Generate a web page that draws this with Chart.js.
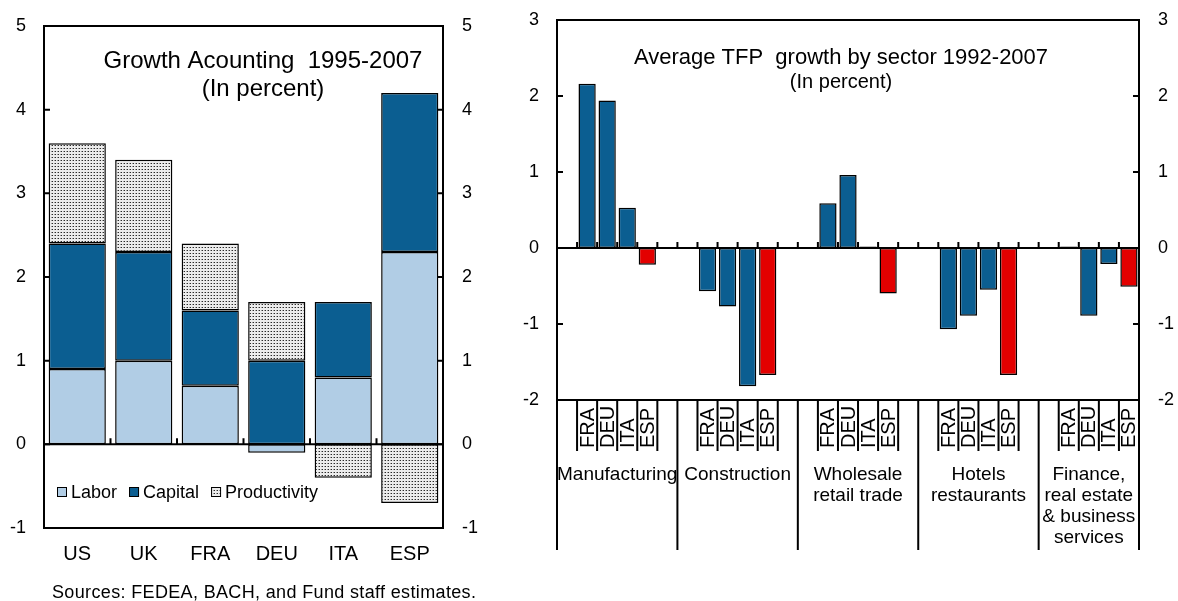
<!DOCTYPE html>
<html><head><meta charset="utf-8">
<script src="https://cdn.jsdelivr.net/npm/chart.js@4.4.1/dist/chart.umd.min.js"></script>
<style>
html,body{margin:0;padding:0;background:#fff;}
#wrap{position:relative;width:1178px;height:601px;overflow:hidden;background:#fff;}
#c1{position:absolute;left:0;top:0;}
#c2{position:absolute;left:490px;top:0;}
#src{position:absolute;left:52px;top:582px;font:18px "Liberation Sans",Arial,sans-serif;letter-spacing:0.35px;color:#000;white-space:nowrap;}
</style></head><body>
<div id="wrap">
<canvas id="c1" width="490" height="601"></canvas>
<canvas id="c2" width="688" height="601"></canvas>
<div id="src">Sources: FEDEA, BACH, and Fund staff estimates.</div>
</div>
<script>
// ---------- Left chart data ----------
const countries = ['US', 'UK', 'FRA', 'DEU', 'ITA', 'ESP'];
const labor = [0.9, 1.0, 0.7, -0.1, 0.8, 2.3];
const capital = [1.5, 1.3, 0.9, 1.0, 0.9, 1.9];
const productivity = [1.2, 1.1, 0.8, 0.7, -0.4, -0.7];
const leftTicks = [-1, 0, 1, 2, 3, 4, 5];
const leftTitle = ['Growth Acounting  1995-2007', '(In percent)'];

// ---------- Right chart data ----------
const tfpCountries = ['FRA', 'DEU', 'ITA', 'ESP'];
const sectorLines = [['Manufacturing'], ['Construction'], ['Wholesale', 'retail trade'], ['Hotels', 'restaurants'], ['Finance,', 'real estate', '& business', 'services']];
const manufacturing = [2.16, 1.94, 0.53, -0.22];
const construction = [-0.57, -0.77, -1.82, -1.67];
const wholesale = [0.59, 0.96, 0.02, -0.60];
const hotels = [-1.07, -0.89, -0.55, -1.67];
const finance = [0.02, -0.89, -0.21, -0.51];
const rightTicks = [-2, -1, 0, 1, 2, 3];
const rightTitle = ['Average TFP  growth by sector 1992-2007', '(In percent)'];

const FONT = '"Liberation Sans", Arial, sans-serif';
const BLUE = '#0B5E91';
const LIGHT = '#B1CDE5';
const RED = '#E30000';

function dotPattern() {
  const c = document.createElement('canvas');
  c.width = 3; c.height = 3;
  const x = c.getContext('2d');
  x.fillStyle = '#ececec'; x.fillRect(0, 0, 3, 3);
  x.fillStyle = '#2a2a2a'; x.fillRect(1, 1, 1, 1);
  x.fillStyle = '#9a9a9a'; x.fillRect(0, 1, 1, 1);
  return x.createPattern(c, 'repeat');
}

const framePlugin = {
  id: 'frame',
  afterDatasetsDraw(chart, args, opts) {
    const { ctx, chartArea: a } = chart;
    const y = chart.scales.y, x = chart.scales.x;
    ctx.save();
    ctx.strokeStyle = '#000';
    ctx.lineWidth = 2;
    ctx.strokeRect(a.left, a.top, a.right - a.left, a.bottom - a.top);
    const y0 = y.getPixelForValue(0);
    ctx.beginPath(); ctx.moveTo(a.left, y0); ctx.lineTo(a.right, y0); ctx.stroke();
    ctx.lineWidth = 2;
    ctx.beginPath();
    y.ticks.forEach(t => {
      const p = y.getPixelForValue(t.value);
      ctx.moveTo(a.left, p); ctx.lineTo(a.left + opts.ytick, p);
      ctx.moveTo(a.right, p); ctx.lineTo(a.right - opts.ytick, p);
    });
    const n = chart.data.labels.length;
    for (let i = 1; i < n; i++) {
      const p = (x.getPixelForValue(i - 1) + x.getPixelForValue(i)) / 2;
      ctx.moveTo(p, y0); ctx.lineTo(p, y0 - opts.xtick);
    }
    ctx.stroke();
    ctx.restore();
  }
};

const titlePlugin = {
  id: 'intitle',
  afterDraw(chart, args, opts) {
    const ctx = chart.ctx;
    ctx.save();
    ctx.fillStyle = '#000';
    ctx.textAlign = 'center';
    ctx.textBaseline = 'middle';
    opts.lines.forEach((t, i) => {
      ctx.font = opts.sizes[i] + 'px ' + FONT;
      ctx.fillText(t, opts.x, opts.ys[i]);
    });
    ctx.restore();
  }
};

const legendPlugin = {
  id: 'inlegend',
  afterDraw(chart, args, opts) {
    const ctx = chart.ctx;
    ctx.save();
    ctx.font = opts.size + 'px ' + FONT;
    ctx.textBaseline = 'middle';
    let x = opts.x;
    chart.data.datasets.forEach(ds => {
      ctx.fillStyle = ds.backgroundColor;
      ctx.fillRect(x, opts.y - 5, 10, 10);
      ctx.strokeStyle = '#000'; ctx.lineWidth = 1;
      ctx.strokeRect(x + 0.5, opts.y - 4.5, 9, 9);
      ctx.fillStyle = '#000';
      ctx.fillText(ds.label, x + 14, opts.y + 1);
      x += 14 + ctx.measureText(ds.label).width + 12;
    });
    ctx.restore();
  }
};

function yAxis(pos, ticksArr, gap, width, min, max) {
  return {
    position: pos, min: min, max: max,
    grid: { display: false, drawTicks: true, tickLength: gap }, border: { display: false },
    ticks: { stepSize: 1, color: '#000', font: { family: FONT, size: 18 }, padding: 0 },
    afterBuildTicks(s) { s.ticks = ticksArr.map(v => ({ value: v })); },
    afterFit(s) { s.width = width; }
  };
}

// ---------- Left chart ----------
const pat = dotPattern();
new Chart(document.getElementById('c1'), {
  type: 'bar',
  data: {
    labels: countries,
    datasets: [
      { label: 'Labor', data: labor, backgroundColor: LIGHT },
      { label: 'Capital', data: capital, backgroundColor: BLUE },
      { label: 'Productivity', data: productivity, backgroundColor: pat }
    ].map(d => Object.assign(d, { borderColor: '#000', borderWidth: 1.5, borderSkipped: false, categoryPercentage: 1, barPercentage: 0.86 }))
  },
  options: {
    responsive: false, animation: false,
    layout: { padding: { top: 26 } },
    plugins: {
      legend: { display: false }, tooltip: { enabled: false },
      frame: { ytick: 6, xtick: 6 },
      intitle: { lines: leftTitle, sizes: [24, 24], x: 263, ys: [61, 89] },
      inlegend: { x: 57, y: 492, size: 18 }
    },
    scales: {
      x: {
        stacked: true,
        grid: { display: false, drawTicks: false }, border: { display: false },
        ticks: { color: '#000', font: { family: FONT, size: 20 }, padding: 14, maxRotation: 0 },
        afterFit(s) { s.height = 73; }
      },
      y: Object.assign(yAxis('left', leftTicks, 18, 44, -1, 5), { stacked: true }),
      y2: yAxis('right', leftTicks, 19, 47, -1, 5)
    }
  },
  plugins: [framePlugin, titlePlugin, legendPlugin]
});

// ---------- Right chart ----------
const groups = [manufacturing, construction, wholesale, hotels, finance];
const slotLabels = [], slotValues = [], slotColors = [], groupStart = [], groupEnd = [];
groups.forEach((vals, g) => {
  groupStart.push(slotLabels.length);
  slotLabels.push(''); slotValues.push(null); slotColors.push(BLUE);
  vals.forEach((v, i) => {
    slotLabels.push(tfpCountries[i]);
    slotValues.push(v);
    slotColors.push(tfpCountries[i] === 'ESP' ? RED : BLUE);
  });
  if (g < groups.length - 1) { slotLabels.push(''); slotValues.push(null); slotColors.push(BLUE); }
  groupEnd.push(slotLabels.length - 1);
});

const sectorAxisPlugin = {
  id: 'sectoraxis',
  afterDraw(chart, args, opts) {
    const { ctx, chartArea: a } = chart;
    const x = chart.scales.x;
    const half = (x.getPixelForValue(1) - x.getPixelForValue(0)) / 2;
    ctx.save();
    ctx.strokeStyle = '#000';
    ctx.lineWidth = 2;
    ctx.fillStyle = '#000';
    ctx.beginPath();
    groupStart.forEach(s => {
      const p = x.getPixelForValue(s) - half;
      ctx.moveTo(p, a.bottom); ctx.lineTo(p, opts.groupBottom);
    });
    ctx.moveTo(a.right, a.bottom); ctx.lineTo(a.right, opts.groupBottom);
    slotLabels.forEach((lab, i) => {
      if (!lab) return;
      const l = x.getPixelForValue(i) - half, r = x.getPixelForValue(i) + half;
      ctx.moveTo(l, a.bottom); ctx.lineTo(l, opts.countryBottom);
      ctx.moveTo(r, a.bottom); ctx.lineTo(r, opts.countryBottom);
    });
    ctx.stroke();
    ctx.font = opts.countrySize + 'px ' + FONT;
    ctx.textAlign = 'left';
    ctx.textBaseline = 'middle';
    slotLabels.forEach((lab, i) => {
      if (!lab) return;
      ctx.save();
      ctx.translate(x.getPixelForValue(i) + 1, opts.countryBottom - 3);
      ctx.rotate(-Math.PI / 2);
      ctx.fillText(lab, 0, 0);
      ctx.restore();
    });
    ctx.font = opts.sectorSize + 'px ' + FONT;
    ctx.textAlign = 'center';
    sectorLines.forEach((lines, g) => {
      const l = x.getPixelForValue(groupStart[g]) - half;
      const r = g < sectorLines.length - 1 ? x.getPixelForValue(groupEnd[g]) + half : a.right;
      const cx = (l + r) / 2;
      lines.forEach((t, k) => ctx.fillText(t, cx, opts.sectorY + k * opts.lineH));
    });
    ctx.restore();
  }
};

new Chart(document.getElementById('c2'), {
  type: 'bar',
  data: {
    labels: slotLabels,
    datasets: [{
      label: 'TFP growth', data: slotValues, backgroundColor: slotColors,
      borderColor: '#000', borderWidth: 1.5, borderSkipped: false,
      categoryPercentage: 1, barPercentage: 0.86
    }]
  },
  options: {
    responsive: false, animation: false,
    layout: { padding: { top: 20 } },
    plugins: {
      legend: { display: false }, tooltip: { enabled: false },
      frame: { ytick: 6, xtick: 6 },
      intitle: { lines: rightTitle, sizes: [22, 20], x: 351, ys: [58, 82] },
      sectoraxis: { groupBottom: 550, countryBottom: 451, countrySize: 20, sectorSize: 19, sectorY: 475, lineH: 21 }
    },
    scales: {
      x: {
        grid: { display: false, drawTicks: false }, border: { display: false },
        ticks: { display: false },
        afterFit(s) { s.height = 201; }
      },
      y: yAxis('left', rightTicks, 18, 67, -2, 3),
      y2: yAxis('right', rightTicks, 19, 39, -2, 3)
    }
  },
  plugins: [framePlugin, titlePlugin, sectorAxisPlugin]
});
</script>
</body></html>
